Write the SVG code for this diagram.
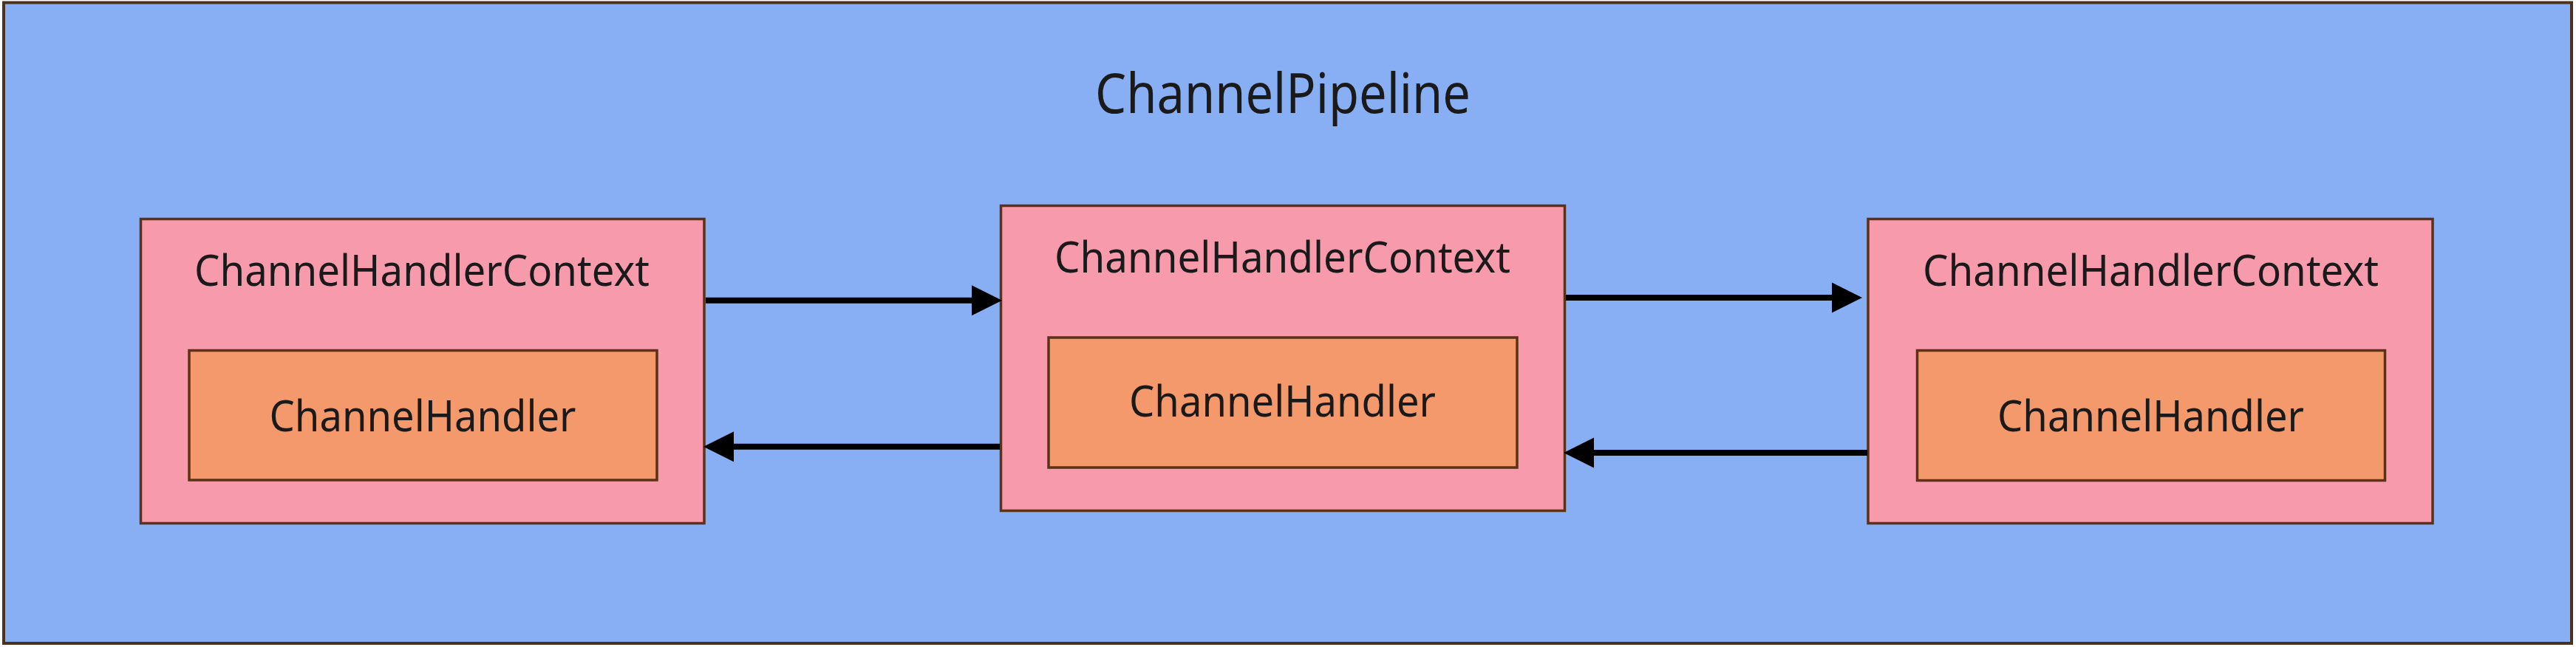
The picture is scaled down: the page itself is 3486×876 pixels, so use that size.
<svg xmlns="http://www.w3.org/2000/svg" width="3486" height="876" viewBox="0 0 3486 876">
<style>
.bg{fill:#ffffff}
.outer{fill:#88AFF4;stroke:#4B321F;stroke-width:4}
.ctx{fill:#F79AAC;stroke:#5B3216;stroke-width:3.5}
.hdl{fill:#F3996C;stroke:#5B3216;stroke-width:3.5}
text{font-family:"Noto Sans","Open Sans","Liberation Sans",sans-serif;fill:#1a1a1a;text-anchor:middle}
.t58{font-size:58px}
.t74{font-size:74px}
.conn{stroke:#000;stroke-width:8;fill:none;marker-end:url(#ah)}
</style>
<defs>
<marker id="ah" markerUnits="userSpaceOnUse" markerWidth="42" markerHeight="42" refX="1" refY="20.5" orient="auto" viewBox="0 0 42 41">
<path d="M0,0 L41,20.5 L0,41 Z" fill="#000"/>
</marker>
</defs>
<rect class="bg" x="0" y="0" width="3486" height="876"/>
<g id="pipeline">
<rect class="outer" x="5" y="3.5" width="3475" height="867.5"/>
<text class="t74" x="1736" y="153" textLength="508" lengthAdjust="spacingAndGlyphs">ChannelPipeline</text>
</g>
<g id="ctx1">
<rect class="ctx" x="190.5" y="296.5" width="762.5" height="412"/>
<text class="t58" x="571" y="387" textLength="616" lengthAdjust="spacingAndGlyphs">ChannelHandlerContext</text>
</g>
<g id="handler1">
<rect class="hdl" x="256" y="474.5" width="633" height="175.5"/>
<text class="t58" x="572" y="584" textLength="415" lengthAdjust="spacingAndGlyphs">ChannelHandler</text>
</g>
<g id="ctx2">
<rect class="ctx" x="1354.5" y="278.5" width="763" height="413"/>
<text class="t58" x="1735.5" y="369" textLength="617" lengthAdjust="spacingAndGlyphs">ChannelHandlerContext</text>
</g>
<g id="handler2">
<rect class="hdl" x="1419" y="457" width="634" height="176"/>
<text class="t58" x="1735.5" y="564" textLength="415" lengthAdjust="spacingAndGlyphs">ChannelHandler</text>
</g>
<g id="ctx3">
<rect class="ctx" x="2528" y="296.5" width="764" height="412"/>
<text class="t58" x="2910.5" y="387" textLength="617" lengthAdjust="spacingAndGlyphs">ChannelHandlerContext</text>
</g>
<g id="handler3">
<rect class="hdl" x="2594.5" y="474.5" width="633" height="176"/>
<text class="t58" x="2910.5" y="584" textLength="415" lengthAdjust="spacingAndGlyphs">ChannelHandler</text>
</g>
<g id="connectors">
<line class="conn" x1="955" y1="406.7" x2="1316" y2="406.7"/>
<line class="conn" x1="1353" y1="604.7" x2="992" y2="604.7"/>
<line class="conn" x1="2119" y1="403" x2="2480" y2="403"/>
<line class="conn" x1="2527" y1="613" x2="2156" y2="613"/>
</g>
</svg>
